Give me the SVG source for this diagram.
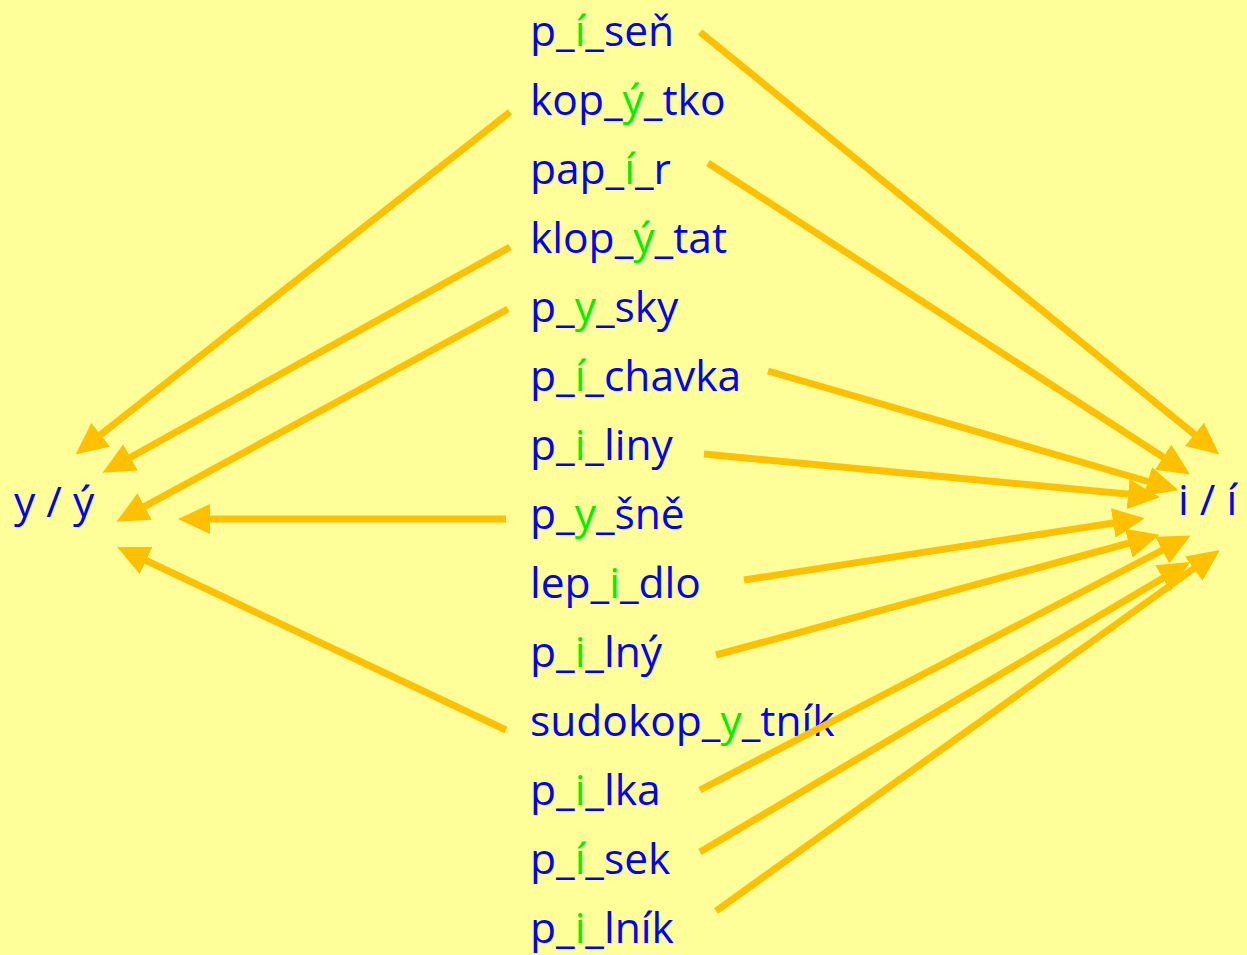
<svg xmlns="http://www.w3.org/2000/svg" width="1247" height="955" viewBox="0 0 1247 955">
<style>
text{font-family:"Open Sans","Noto Sans","Liberation Sans",sans-serif;font-size:42.5px;fill:#0000FF}
.g{fill:#00F000}
.c line{stroke:#FFC000;stroke-width:7;marker-end:url(#ah)}
</style>
<defs>
<marker id="ah" markerUnits="userSpaceOnUse" viewBox="0 0 32 30" markerWidth="32" markerHeight="30" refX="20" refY="15" orient="auto">
<path d="M0,0 L32,15 L0,30 z" fill="#FFC000"/>
</marker>
</defs>
<rect width="1247" height="955" fill="#FFFF99"/>
<g id="left"><text x="14" y="517">y / ý</text></g>
<g id="right"><text x="1178" y="515">i / í</text></g>
<g id="w1"><text x="530" y="46">p_<tspan class="g">í</tspan>_seň</text></g>
<g id="w2"><text x="530" y="115">kop_<tspan class="g">ý</tspan>_tko</text></g>
<g id="w3"><text x="530" y="184">pap_<tspan class="g">í</tspan>_r</text></g>
<g id="w4"><text x="530" y="253">klop_<tspan class="g">ý</tspan>_tat</text></g>
<g id="w5"><text x="530" y="322">p_<tspan class="g">y</tspan>_sky</text></g>
<g id="w6"><text x="530" y="391">p_<tspan class="g">í</tspan>_chavka</text></g>
<g id="w7"><text x="530" y="460">p_<tspan class="g">i</tspan>_liny</text></g>
<g id="w8"><text x="530" y="529">p_<tspan class="g">y</tspan>_šně</text></g>
<g id="w9"><text x="530" y="598">lep_<tspan class="g">i</tspan>_dlo</text></g>
<g id="w10"><text x="530" y="667">p_<tspan class="g">i</tspan>_lný</text></g>
<g id="w11"><text x="530" y="736">sudokop_<tspan class="g">y</tspan>_tník</text></g>
<g id="w12"><text x="530" y="805">p_<tspan class="g">i</tspan>_lka</text></g>
<g id="w13"><text x="530" y="874">p_<tspan class="g">í</tspan>_sek</text></g>
<g id="w14"><text x="530" y="943">p_<tspan class="g">i</tspan>_lník</text></g>
<g id="connectors" class="c">
<line x1="510" y1="112" x2="85" y2="447"/>
<line x1="510" y1="247" x2="113" y2="467"/>
<line x1="508" y1="309" x2="127" y2="516"/>
<line x1="506" y1="519" x2="190" y2="519"/>
<line x1="506" y1="730" x2="128" y2="552"/>
<line x1="700" y1="32" x2="1210" y2="447"/>
<line x1="708" y1="163" x2="1180" y2="468"/>
<line x1="768" y1="371" x2="1167" y2="487"/>
<line x1="704" y1="454" x2="1148" y2="496"/>
<line x1="744" y1="580" x2="1133" y2="520"/>
<line x1="716" y1="655" x2="1148" y2="538"/>
<line x1="700" y1="790" x2="1180" y2="541"/>
<line x1="700" y1="852" x2="1180" y2="568"/>
<line x1="716" y1="911" x2="1210" y2="557"/>
</g>
</svg>
